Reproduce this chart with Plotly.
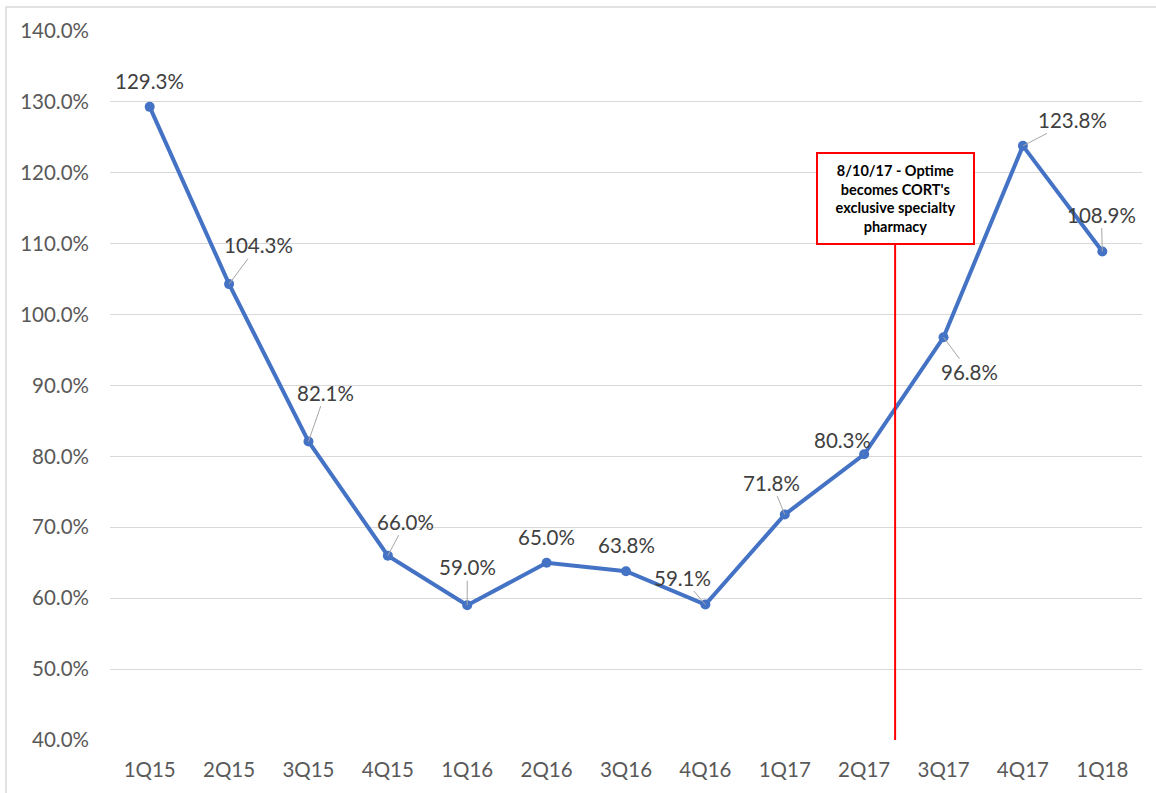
import plotly.graph_objects as go

quarters = ["1Q15", "2Q15", "3Q15", "4Q15", "1Q16", "2Q16", "3Q16", "4Q16",
            "1Q17", "2Q17", "3Q17", "4Q17", "1Q18"]
values = [129.3, 104.3, 82.1, 66.0, 59.0, 65.0, 63.8, 59.1, 71.8, 80.3, 96.8, 123.8, 108.9]
# label offsets (pixels) of each data label from its point; leader flag
label_dx = [0, 29, 17, 18, 0, 0, 0, -23, -13, -22, 26, 50, -1]
label_dy = [-26, -39, -49, -34, -38, -26, -26, -27, -32, -14, 35, -26, -37]
leader = [False, True, True, True, True, False, False, True, True, True, True, True, True]

event_x = 9.39
event_text = "8/10/17 - Optime<br>becomes CORT's<br>exclusive specialty<br>pharmacy"

FONT = "Lato, Open Sans, sans-serif"
x_idx = list(range(len(quarters)))

fig = go.Figure()
fig.add_trace(go.Scatter(
    x=x_idx, y=values, mode="lines+markers",
    line=dict(color="#4472C4", width=4),
    marker=dict(color="#4472C4", size=10),
    hoverinfo="skip", showlegend=False,
))

annos = []
for i, (v, dx, dy, ld) in enumerate(zip(values, label_dx, label_dy, leader)):
    if ld:
        annos.append(dict(x=i, y=v, xref="x", yref="y", text=f"{v:.1f}%",
                          showarrow=True, arrowhead=0, arrowwidth=1,
                          arrowcolor="#A6A6A6", ax=dx, ay=dy, standoff=0,
                          font=dict(family=FONT, size=20.5, color="#404040")))
    else:
        annos.append(dict(x=i, y=v, xref="x", yref="y", text=f"{v:.1f}%",
                          showarrow=False, xshift=dx, yshift=-dy,
                          font=dict(family=FONT, size=20.5, color="#404040")))

annos.append(dict(x=event_x, y=116.4, xref="x", yref="y", text="<b>" + event_text + "</b>",
                  showarrow=False, bgcolor="white", bordercolor="#FF0000", borderwidth=2,
                  width=153, height=87, borderpad=1, align="center",
                  font=dict(family=FONT, size=14.5, color="#000000")))

shapes = [
    dict(type="line", xref="x", yref="y", x0=event_x, x1=event_x, y0=40, y1=112,
         line=dict(color="#FF0000", width=2), layer="above"),
    dict(type="rect", xref="paper", yref="paper", x0=-0.1008, x1=1.05,
         y0=-0.1, y1=1.0338, line=dict(color="#D9D9D9", width=1.5)),
]

fig.update_layout(
    width=1156, height=793,
    margin=dict(l=110, r=14, t=31, b=53),
    paper_bgcolor="white", plot_bgcolor="white",
    annotations=annos, shapes=shapes,
    xaxis=dict(range=[-0.5, 12.5], tickmode="array", tickvals=x_idx, ticktext=quarters,
               showgrid=False, zeroline=False, showline=False, ticks="",
               ticklabelstandoff=15,
               tickfont=dict(family=FONT, size=20.5, color="#595959"),
               fixedrange=True),
    yaxis=dict(range=[40, 140], dtick=10, tickformat=".1f", ticksuffix="%",
               showgrid=True, gridcolor="#D9D9D9", gridwidth=1, zeroline=False,
               showline=False, ticks="", ticklabelstandoff=20,
               tickfont=dict(family=FONT, size=20.5, color="#595959"),
               fixedrange=True),
)

fig.write_html("out.html")
